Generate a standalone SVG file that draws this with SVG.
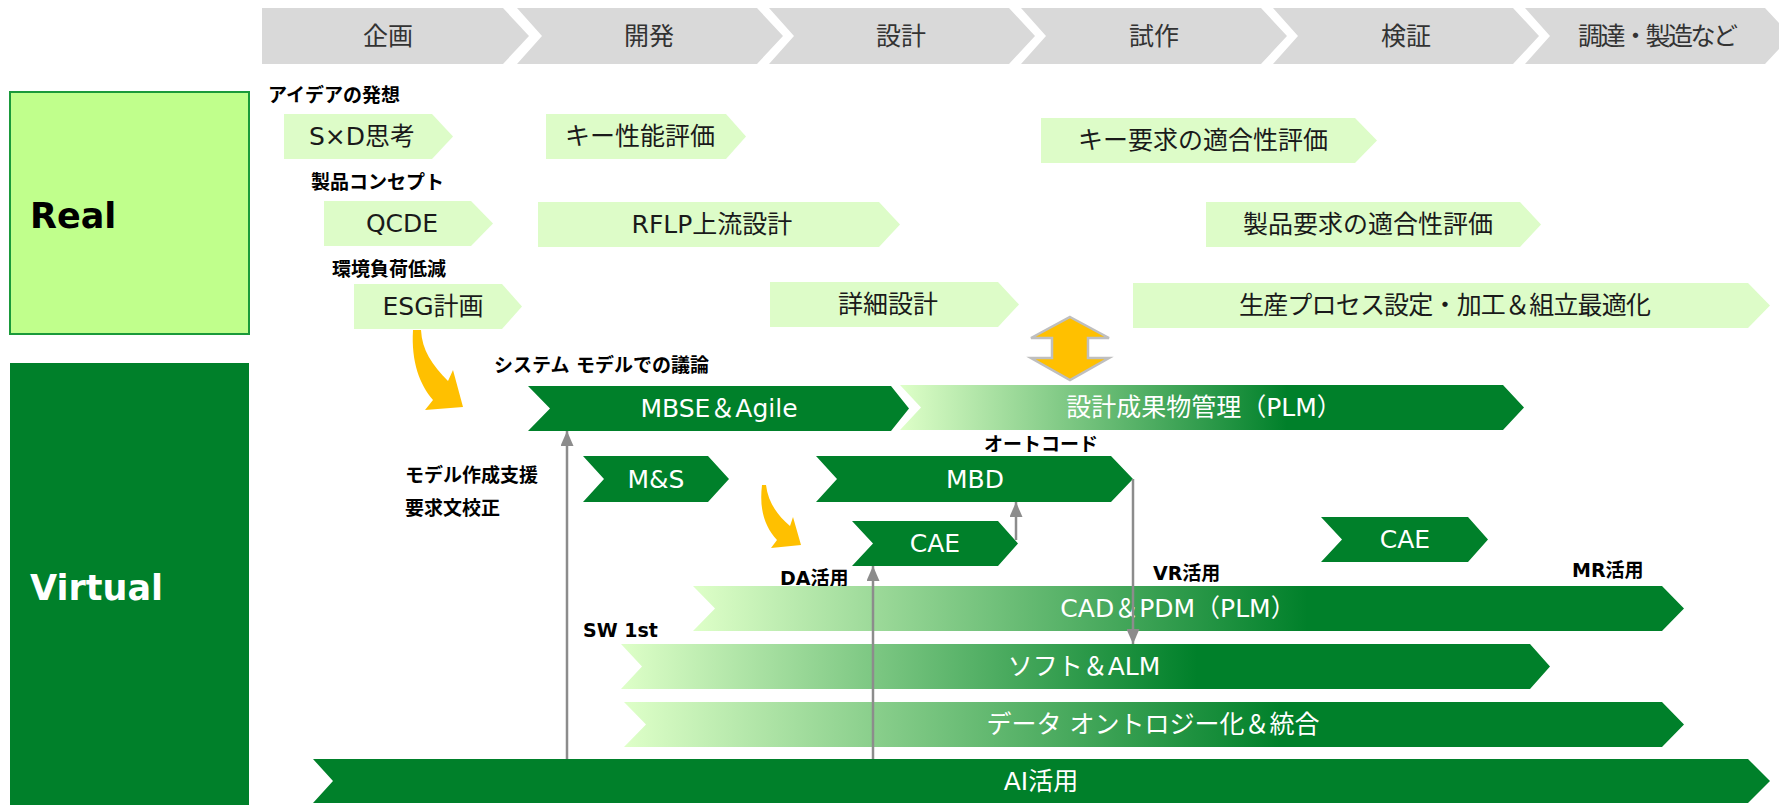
<svg xmlns="http://www.w3.org/2000/svg" width="1779" height="805" viewBox="0 0 1779 805">
<defs>
<style>
.hdr{fill:#D9D9D9}
.hdrt{font-family:"DejaVu Sans","Noto Sans CJK JP",sans-serif;font-size:25px;fill:#333;text-anchor:middle}
.lc{fill:#DDFCC8}
.dk{fill:#00802A}
.ct{font-family:"DejaVu Sans","Noto Sans CJK JP",sans-serif;font-size:25px;text-anchor:middle}
.ctd{fill:#1a1a1a}
.ctw{fill:#ffffff}
.lbl{font-family:"DejaVu Sans","Noto Sans CJK JP",sans-serif;font-size:19px;font-weight:bold;fill:#000}
.big{font-family:"DejaVu Sans","Noto Sans CJK JP",sans-serif;font-size:35px;font-weight:bold}
.conn{stroke:#8C8C8C;stroke-width:2.5;fill:none}
.yel{fill:#FFC000}
</style>
<linearGradient id="gr" x1="0" y1="0" x2="1" y2="0">
<stop offset="0" stop-color="#DEFFC8"/>
<stop offset="0.62" stop-color="#00802A"/>
<stop offset="1" stop-color="#00802A"/>
</linearGradient>
<marker id="ah" markerUnits="userSpaceOnUse" markerWidth="16" markerHeight="13" refX="15" refY="6.5" orient="auto">
<path d="M0,0 L15,6.5 L0,13 Z" fill="#8C8C8C"/>
</marker>
</defs>

<!-- Header phases -->
<g id="phase-kikaku"><polygon class="hdr" points="262,8 503,8 529,36 503,64 262,64"/><text class="hdrt" x="388" y="45">企画</text></g>
<g id="phase-kaihatsu"><polygon class="hdr" points="517,8 757,8 783,36 757,64 517,64 542,36"/><text class="hdrt" x="649" y="45">開発</text></g>
<g id="phase-sekkei"><polygon class="hdr" points="769,8 1009,8 1035,36 1009,64 769,64 794,36"/><text class="hdrt" x="901" y="45">設計</text></g>
<g id="phase-shisaku"><polygon class="hdr" points="1021,8 1261,8 1287,36 1261,64 1021,64 1046,36"/><text class="hdrt" x="1154" y="45">試作</text></g>
<g id="phase-kensho"><polygon class="hdr" points="1273,8 1513,8 1539,36 1513,64 1273,64 1298,36"/><text class="hdrt" x="1406" y="45">検証</text></g>
<g id="phase-chotatsu"><polygon class="hdr" points="1525,8 1765,8 1791,36 1765,64 1525,64 1550,36"/><text class="hdrt" x="1658" y="45" textLength="160" lengthAdjust="spacing">調達・製造など</text></g>

<!-- Side boxes -->
<g id="real"><rect x="10" y="92" width="239" height="242" fill="#C0FF8C" stroke="#1A9A3A" stroke-width="2"/><text class="big" x="30" y="228" fill="#000">Real</text></g>
<g id="virtual"><rect x="10" y="363" width="239" height="445" class="dk"/><text class="big" x="30" y="600" fill="#fff">Virtual</text></g>

<!-- Labels -->
<g id="labels">
<text class="lbl" x="268" y="102">アイデアの発想</text>
<text class="lbl" x="311" y="189">製品コンセプト</text>
<text class="lbl" x="332" y="276">環境負荷低減</text>
<text class="lbl" x="494" y="372">システム モデルでの議論</text>
<text class="lbl" x="984" y="451">オートコード</text>
<text class="lbl" x="405" y="482">モデル作成支援</text>
<text class="lbl" x="405" y="515">要求文校正</text>
<text class="lbl" x="780" y="585">DA活用</text>
<text class="lbl" x="1153" y="580">VR活用</text>
<text class="lbl" x="1572" y="577">MR活用</text>
<text class="lbl" x="583" y="637">SW 1st</text>
</g>

<!-- Real chevrons -->
<g id="r-sxd"><polygon class="lc" points="284,114 432,114 453,136.5 432,159 284,159"/><text class="ct ctd" x="362" y="145">S×D思考</text></g>
<g id="r-key-perf"><polygon class="lc" points="546,114 726,114 746,136.5 726,159 546,159"/><text class="ct ctd" x="640" y="145">キー性能評価</text></g>
<g id="r-key-req"><polygon class="lc" points="1041,118 1355,118 1377,140.5 1355,163 1041,163"/><text class="ct ctd" x="1203" y="149">キー要求の適合性評価</text></g>
<g id="r-qcde"><polygon class="lc" points="324,201 471,201 493,223.5 471,246 324,246"/><text class="ct ctd" x="402" y="232">QCDE</text></g>
<g id="r-rflp"><polygon class="lc" points="538,202 879,202 900,224.5 879,247 538,247"/><text class="ct ctd" x="712" y="233">RFLP上流設計</text></g>
<g id="r-prod-req"><polygon class="lc" points="1206,202 1520,202 1541,224.5 1520,247 1206,247"/><text class="ct ctd" x="1368" y="233">製品要求の適合性評価</text></g>
<g id="r-esg"><polygon class="lc" points="354,284 502,284 522,306.5 502,329 354,329"/><text class="ct ctd" x="433" y="315">ESG計画</text></g>
<g id="r-detail"><polygon class="lc" points="770,282 998,282 1019,304.5 998,327 770,327"/><text class="ct ctd" x="888" y="313">詳細設計</text></g>
<g id="r-prod"><polygon class="lc" points="1133,283 1748,283 1770,305.5 1748,328 1133,328"/><text class="ct ctd" x="1445" y="314" textLength="412" lengthAdjust="spacing">生産プロセス設定・加工＆組立最適化</text></g>

<!-- Double arrow -->
<g id="double-arrow"><polygon points="1070,317 1109,338 1088,338 1088,358 1109,358 1070,380 1031,358 1052,358 1052,338 1031,338" class="yel" stroke="#BFBFBF" stroke-width="2.5" stroke-linejoin="miter"/></g>

<!-- Curved arrows -->
<g id="curve-arrow-1"><path class="yel" d="M413,330 C411,362 420,385 433,400 L425,410 L463,407 L453,370 L448,381 C432,365 422,350 421,330 Z"/></g>
<g id="curve-arrow-2"><path class="yel" d="M762,485 C759,510 765,527 777,540 L771,548 L801,545 L793,517 L790,526 C777,515 768,502 766,485 Z"/></g>

<!-- Virtual chevrons -->
<g id="v-mbse"><polygon class="dk" points="528,386 891,386 909,408.5 891,431 528,431 550,408.5"/><text class="ct ctw" x="719" y="417">MBSE＆Agile</text></g>
<g id="v-plm"><polygon fill="url(#gr)" points="900,385 1503,385 1524,407.5 1503,430 900,430 921,407.5"/><text class="ct ctw" x="1204" y="416">設計成果物管理（PLM）</text></g>
<g id="v-ms"><polygon class="dk" points="583,456 708,456 729,479 708,502 583,502 604,479"/><text class="ct ctw" x="656" y="488">M&amp;S</text></g>
<g id="v-mbd"><polygon class="dk" points="816,456 1111,456 1133,479 1111,502 816,502 837,479"/><text class="ct ctw" x="975" y="488">MBD</text></g>
<g id="v-cae1"><polygon class="dk" points="852,521 998,521 1018,543.5 998,566 852,566 873,543.5"/><text class="ct ctw" x="935" y="552">CAE</text></g>
<g id="v-cae2"><polygon class="dk" points="1321,517 1468,517 1488,539.5 1468,562 1321,562 1342,539.5"/><text class="ct ctw" x="1405" y="548">CAE</text></g>
<g id="v-cad"><polygon fill="url(#gr)" points="693,586 1662,586 1684,608.5 1662,631 693,631 715,608.5"/><text class="ct ctw" x="1178" y="617">CAD＆PDM（PLM）</text></g>
<g id="v-alm"><polygon fill="url(#gr)" points="621,644 1530,644 1550,666.5 1530,689 621,689 642,666.5"/><text class="ct ctw" x="1084" y="675">ソフト＆ALM</text></g>
<g id="v-data"><polygon fill="url(#gr)" points="624,702 1662,702 1684,724.5 1662,747 624,747 646,724.5"/><text class="ct ctw" x="1153" y="733">データ オントロジー化＆統合</text></g>
<g id="v-ai"><polygon class="dk" points="313,759 1748,759 1770,781 1748,803 313,803 333,781"/><text class="ct ctw" x="1041" y="790">AI活用</text></g>

<!-- Connectors -->
<g id="connectors">
<line class="conn" x1="567" y1="759" x2="567" y2="431" marker-end="url(#ah)"/>
<line class="conn" x1="873" y1="759" x2="873" y2="566" marker-end="url(#ah)"/>
<line class="conn" x1="1016" y1="540" x2="1016" y2="502" marker-end="url(#ah)"/>
<line class="conn" x1="1133" y1="479" x2="1133" y2="644" marker-end="url(#ah)"/>
</g>
</svg>
